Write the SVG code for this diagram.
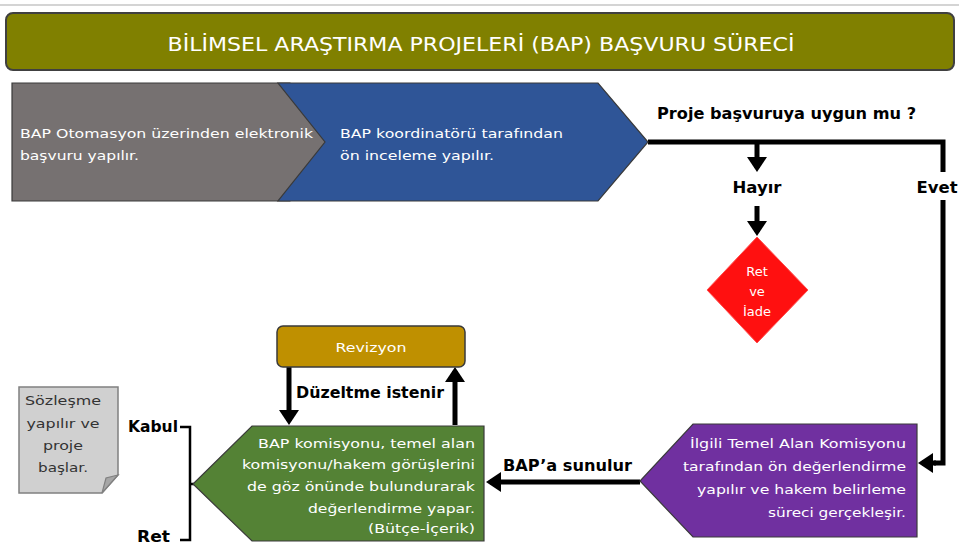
<svg xmlns="http://www.w3.org/2000/svg" width="959" height="548" viewBox="0 0 959 548">
<style>
.t{font-family:"DejaVu Sans","Liberation Sans",sans-serif;font-size:13px;fill:#fff}
.b{font-family:"DejaVu Sans","Liberation Sans",sans-serif;font-size:15px;font-weight:bold;fill:#000}
.w{fill:none;stroke:#000;stroke-width:5}
.sh{stroke:#3a3a3a;stroke-width:1.2}
.n{fill:#333}
</style>
<defs>
<marker id="ah" markerWidth="4" markerHeight="4" refX="2.2" refY="2" orient="auto" markerUnits="strokeWidth">
<path d="M0,0 L3,2 L0,4 Z" fill="#000"/>
</marker>
</defs>
<rect x="0" y="4" width="959" height="2" fill="#d4d4d4"/>
<g id="title">
<rect x="6" y="13" width="948" height="57" rx="7" fill="#808000" stroke="#404040" stroke-width="2"/>
<text class="t" x="481" y="51" text-anchor="middle" style="font-size:20px" textLength="627" lengthAdjust="spacingAndGlyphs">BİLİMSEL ARAŞTIRMA PROJELERİ (BAP) BAŞVURU SÜRECİ</text>
</g>
<g id="connectors">
<polyline class="w" points="648,142 943,142 943,172"/>
<polyline class="w" points="943,200 943,463 934,463" stroke-linejoin="miter"/>
<line class="w" x1="936" y1="463" x2="922" y2="463" marker-end="url(#ah)"/>
<line class="w" x1="757" y1="142" x2="757" y2="168" marker-end="url(#ah)"/>
<line class="w" x1="757" y1="206" x2="757" y2="232" marker-end="url(#ah)"/>
<line class="w" x1="640" y1="482" x2="490" y2="482" marker-end="url(#ah)"/>
<line class="w" x1="289" y1="367" x2="289" y2="421" marker-end="url(#ah)"/>
<line class="w" x1="455" y1="425" x2="455" y2="371" marker-end="url(#ah)"/>
<polyline points="180,427 190,427 190,540 180,540" fill="none" stroke="#000" stroke-width="2.5"/>
<line x1="190" y1="484" x2="194" y2="484" stroke="#000" stroke-width="2.5"/>
</g>
<g id="step1">
<polygon class="sh" points="12,83 290,83 337,142 290,201 12,201" fill="#767171"/>
<text class="t" x="20" y="138" textLength="293" lengthAdjust="spacingAndGlyphs">BAP Otomasyon üzerinden elektronik</text>
<text class="t" x="20" y="160" textLength="119" lengthAdjust="spacingAndGlyphs">başvuru yapılır.</text>
</g>
<g id="step2">
<polygon class="sh" points="278,83 598,83 648,142 598,201 278,201 325,142" fill="#2F5597"/>
<text class="t" x="340" y="138" textLength="223" lengthAdjust="spacingAndGlyphs">BAP koordinatörü tarafından</text>
<text class="t" x="340" y="160" textLength="154" lengthAdjust="spacingAndGlyphs">ön inceleme yapılır.</text>
</g>
<g id="question">
<text class="b" x="657" y="119" textLength="259" lengthAdjust="spacingAndGlyphs">Proje başvuruya uygun mu ?</text>
</g>
<g id="hayir"><text class="b" x="757" y="193" text-anchor="middle" textLength="49" lengthAdjust="spacingAndGlyphs">Hayır</text></g>
<g id="evet"><text class="b" x="937" y="193" text-anchor="middle" textLength="41" lengthAdjust="spacingAndGlyphs">Evet</text></g>
<g id="ret-iade">
<polygon points="757,237 808,290 757,343 707,290" fill="#FF1010" stroke="#ff5050" stroke-width="1"/>
<text class="t" x="757" y="276" text-anchor="middle">Ret</text>
<text class="t" x="757" y="296" text-anchor="middle">ve</text>
<text class="t" x="757" y="316" text-anchor="middle">İade</text>
</g>
<g id="komisyon">
<polygon class="sh" points="693,424 917,424 917,537 693,537 640,481" fill="#7030A0"/>
<text class="t" x="906" y="448" text-anchor="end" textLength="216" lengthAdjust="spacingAndGlyphs">İlgili Temel Alan Komisyonu</text>
<text class="t" x="906" y="471" text-anchor="end" textLength="223" lengthAdjust="spacingAndGlyphs">tarafından ön değerlendirme</text>
<text class="t" x="906" y="494" text-anchor="end" textLength="209" lengthAdjust="spacingAndGlyphs">yapılır ve hakem belirleme</text>
<text class="t" x="906" y="517" text-anchor="end" textLength="138" lengthAdjust="spacingAndGlyphs">süreci gerçekleşir.</text>
</g>
<g id="sunulur"><text class="b" x="503" y="471" textLength="129" lengthAdjust="spacingAndGlyphs">BAP’a sunulur</text></g>
<g id="bap-komisyonu">
<polygon class="sh" points="252,426 484,426 484,541 252,541 193,484" fill="#548235"/>
<text class="t" x="475" y="448" text-anchor="end" textLength="217" lengthAdjust="spacingAndGlyphs">BAP komisyonu, temel alan</text>
<text class="t" x="475" y="469" text-anchor="end" textLength="233" lengthAdjust="spacingAndGlyphs">komisyonu/hakem görüşlerini</text>
<text class="t" x="475" y="491" text-anchor="end" textLength="228" lengthAdjust="spacingAndGlyphs">de göz önünde bulundurarak</text>
<text class="t" x="475" y="513" text-anchor="end" textLength="167" lengthAdjust="spacingAndGlyphs">değerlendirme yapar.</text>
<text class="t" x="475" y="533" text-anchor="end" textLength="107" lengthAdjust="spacingAndGlyphs">(Bütçe-İçerik)</text>
</g>
<g id="revizyon">
<rect x="277" y="326" width="188" height="41" rx="6" fill="#BF9000" stroke="#3a3a3a" stroke-width="1.5"/>
<text class="t" x="371" y="352" text-anchor="middle" textLength="71" lengthAdjust="spacingAndGlyphs">Revizyon</text>
</g>
<g id="duzeltme"><text class="b" x="296" y="398" textLength="148" lengthAdjust="spacingAndGlyphs">Düzeltme istenir</text></g>
<g id="kabul"><text class="b" x="128" y="432" textLength="50" lengthAdjust="spacingAndGlyphs">Kabul</text></g>
<g id="ret"><text class="b" x="137" y="542" textLength="33" lengthAdjust="spacingAndGlyphs">Ret</text></g>
<g id="sozlesme">
<path d="M19,387 H118 V475 L102,493 H19 Z" fill="#D0D0D0" stroke="#808080" stroke-width="1.5"/>
<path d="M118,475 L106,478 L102,493 Z" fill="#a6a6a6" stroke="#808080" stroke-width="1.2"/>
<text class="t n" x="63" y="405" text-anchor="middle" textLength="76" lengthAdjust="spacingAndGlyphs">Sözleşme</text>
<text class="t n" x="63" y="428" text-anchor="middle" textLength="73" lengthAdjust="spacingAndGlyphs">yapılır ve</text>
<text class="t n" x="63" y="450" text-anchor="middle" textLength="40" lengthAdjust="spacingAndGlyphs">proje</text>
<text class="t n" x="63" y="472" text-anchor="middle" textLength="50" lengthAdjust="spacingAndGlyphs">başlar.</text>
</g>
</svg>
